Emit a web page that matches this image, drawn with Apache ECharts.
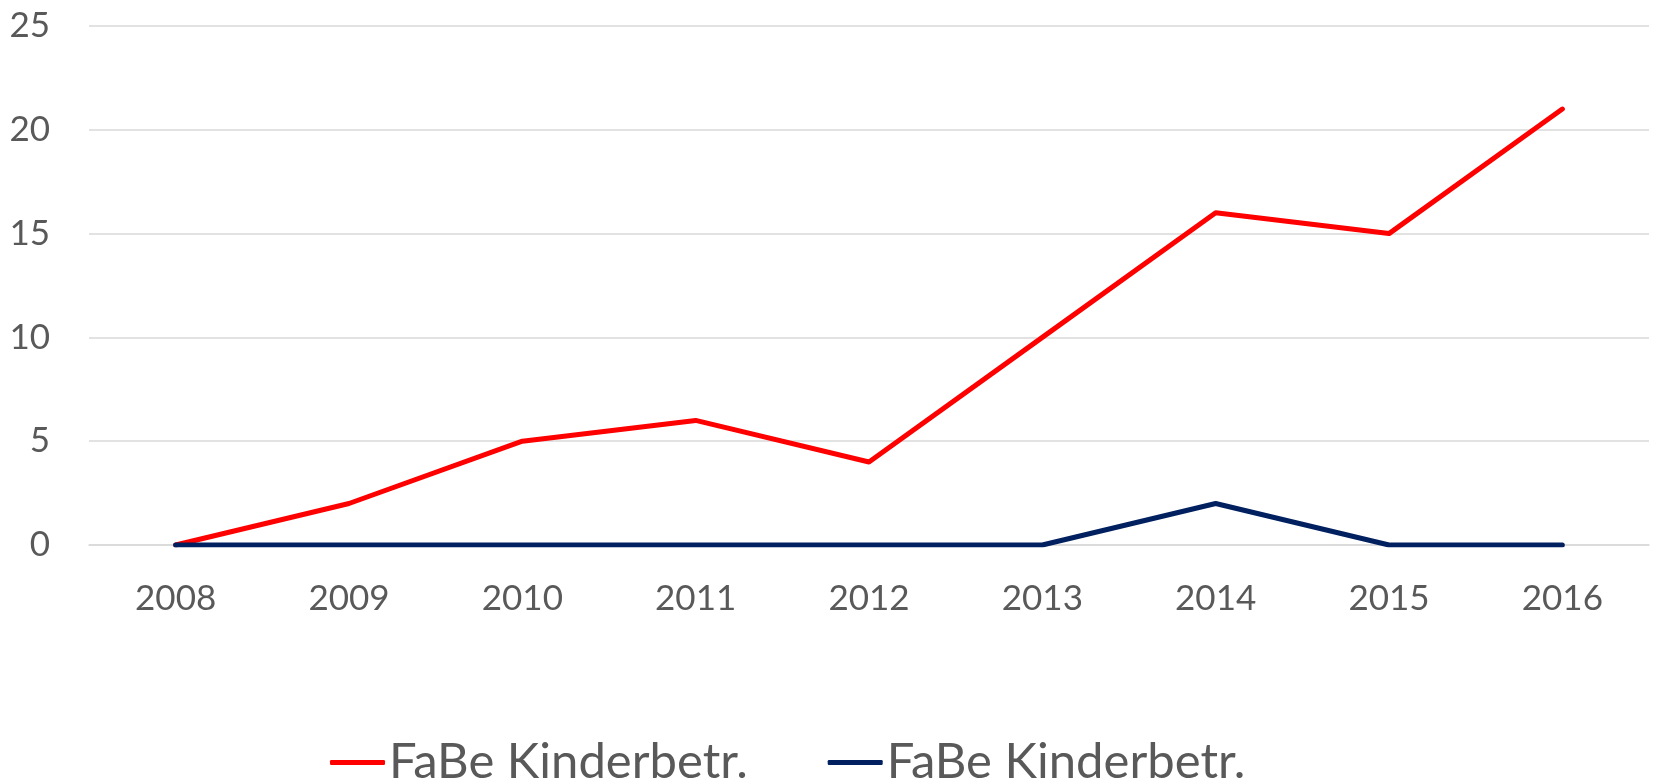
<!DOCTYPE html>
<html>
<head>
<meta charset="utf-8">
<script src="https://cdn.jsdelivr.net/npm/echarts@6/dist/echarts.min.js"></script>
<style>html,body{margin:0;padding:0;background:#fff}#c{width:1653px;height:782px}</style>
</head>
<body>
<div id="c"></div>
<script>
const categories = ['2008','2009','2010','2011','2012','2013','2014','2015','2016'];
const seriesNames = ['FaBe Kinderbetr.', 'FaBe Kinderbetr. '];
const redValues = [0, 2, 5, 6, 4, 10, 16, 15, 21];
const navyValues = [0, 0, 0, 0, 0, 0, 2, 0, 0];
const colors = ['#ff0000', '#002060'];

const chart = echarts.init(document.getElementById('c'));
const font = 'Lato';
chart.setOption({
  animation: false,
  grid: {left: 89, right: 4, top: 26, bottom: 237},
  legend: {
    left: 325, top: 733,
    icon: 'roundRect',
    itemWidth: 55, itemHeight: 5, itemGap: 80,
    textStyle: {fontFamily: font, fontSize: 49, color: '#595959', padding: [0,0,0,-1]},
    data: seriesNames
  },
  xAxis: {
    type: 'category', data: categories, boundaryGap: true,
    axisLine: {lineStyle: {color: '#d9d9d9', width: 1.5}},
    axisTick: {show: false},
    axisLabel: {fontFamily: font, fontSize: 35, color: '#595959', margin: 36}
  },
  yAxis: {
    type: 'value', min: 0, max: 25, interval: 5,
    axisLine: {show: false}, axisTick: {show: false},
    splitLine: {lineStyle: {color: '#d9d9d9', width: 1.5}},
    axisLabel: {fontFamily: font, fontSize: 35, color: '#595959', margin: 39}
  },
  series: [
    {name: seriesNames[0], type: 'line', data: redValues, symbol: 'none', color: colors[0],
     lineStyle: {width: 5, cap: 'round', join: 'round'}},
    {name: seriesNames[1], type: 'line', data: navyValues, symbol: 'none', color: colors[1],
     lineStyle: {width: 5, cap: 'round', join: 'round'}}
  ]
});
</script>
</body>
</html>
